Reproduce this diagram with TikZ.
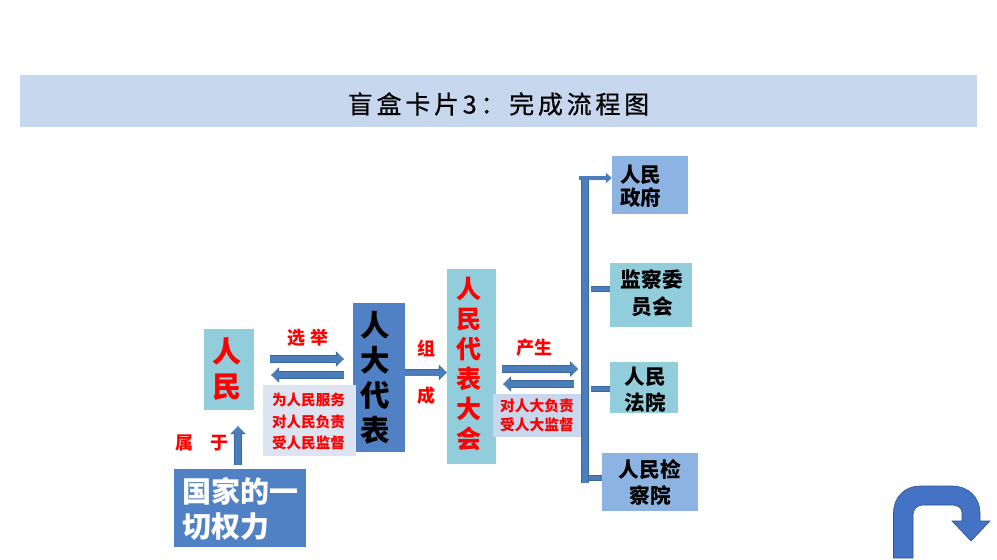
\documentclass[tikz,border=0pt]{standalone}
\usepackage{fontspec}
\setmainfont{Noto Sans CJK SC}
\newfontfamily\titlefont[LetterSpace=15,FakeBold=.6]{Noto Sans CJK SC}
\usetikzlibrary{arrows.meta}
\definecolor{bandblue}{HTML}{C7D7EE}
\definecolor{paleblue}{HTML}{DCE3F1}
\definecolor{tealbox}{HTML}{92CDDC}
\definecolor{midblue}{HTML}{8DB3E2}
\definecolor{deepblue}{HTML}{4F81C4}
\definecolor{arrowblue}{HTML}{4A7DBA}
\definecolor{arrowedge}{HTML}{3A679C}
\definecolor{turnblue}{HTML}{4472C4}
\definecolor{turnedge}{HTML}{2F528F}
\newcommand{\fsz}[2]{\fontsize{#1}{#2}\selectfont\bfseries}
\tikzset{
	box/.style={inner sep=0pt},
	boxtext/.style={inner sep=0pt, align=center},
	note/.style={inner sep=0pt, text=red, font=\fsz{18}{20}},
	blockarrow/.style={draw=arrowblue, line width=6pt, -{Triangle[width=13pt,length=7pt]},
		preaction={draw=arrowedge, line width=7.5pt, -{Triangle[width=15pt,length=8pt]}}},
	branch/.style={draw=arrowblue, line width=4pt,
		preaction={draw=arrowedge, line width=5.5pt}}
}
\begin{document}
\begin{tikzpicture}[x=1pt, y=-1pt]
	\useasboundingbox (0,0) rectangle (997,560);
	\node[box, fill=bandblue, minimum width=957pt, minimum height=52pt, label={[boxtext, yshift=-3pt, font=\titlefont\fontsize{25}{28}\selectfont]center:盲盒卡片3：完成流程图}] (title) at (498.5,101) {};
	% left part
	\node[box, fill=tealbox, minimum width=50pt, minimum height=81pt, label={[boxtext, xshift=-2.5pt, text=red, font=\fsz{29}{35}]center:人\\民}] (renmin) at (229,369.5) {};
	\node[box, fill=deepblue, minimum width=132pt, minimum height=78pt, label={[boxtext, align=left, yshift=-1pt, text=white, font=\fsz{29}{34.5}]center:国家的一\\切权力}] (quanli) at (240,508) {};
	\node[box, fill=deepblue, minimum width=52pt, minimum height=149pt, label={[boxtext, xshift=-4pt, font=\fsz{29.5}{35}]center:人\\大\\代\\表}] (renda) at (379,377.5) {};
	\node[box, fill=paleblue, minimum width=93pt, minimum height=71pt, label={[boxtext, xshift=-1pt, yshift=-1pt, text=red, font=\fsz{14.6}{21.5}]center:为人民服务\\对人民负责\\受人民监督}] (wei) at (309.5,420.5) {};
	\node[box, fill=tealbox, minimum width=49pt, minimum height=195pt, label={[boxtext, xshift=-2.5pt, yshift=3pt, text=red, font=\fsz{25}{30}]center:人\\民\\代\\表\\大\\会}] (daihui) at (471.5,366.5) {};
	\node[box, fill=bandblue, minimum width=93pt, minimum height=43pt, label={[boxtext, xshift=-2.5pt, text=red, font=\fsz{14.8}{19}]center:对人大负责\\受人大监督}] (dui) at (539.5,415.5) {};
	% right part
	\node[box, fill=midblue, minimum width=76pt, minimum height=58pt, label={[boxtext, xshift=-9.5pt, yshift=-1.5pt, font=\fsz{20.5}{23}]center:人民\\政府}] (zhengfu) at (650,185) {};
	\node[box, fill=tealbox, minimum width=82pt, minimum height=64pt, label={[boxtext, xshift=1pt, yshift=1.5pt, font=\fsz{20.7}{27}]center:监察委\\员会}] (jiancha) at (651,295) {};
	\node[box, fill=tealbox, minimum width=68pt, minimum height=51pt, label={[boxtext, xshift=1pt, yshift=-2.5pt, font=\fsz{20.5}{26}]center:人民\\法院}] (fayuan) at (644,387.5) {};
	\node[box, fill=midblue, minimum width=96pt, minimum height=58pt, label={[boxtext, font=\fsz{20.7}{26}]center:人民检\\察院}] (jianchayuan) at (650,482) {};
	% labels
	\node[note] (xuanju) at (308,338) {选\hspace{6pt}举};
	\node[note] (shu) at (184,443) {属};
	\node[note] (yu) at (219,443) {于};
	\node[note] (zu) at (426,348.5) {组};
	\node[note] (cheng) at (426,395.5) {成};
	\node[note] (chansheng) at (534.5,348) {产生};
	% arrows
	\coordinate (outend) at (578,369);
	\coordinate (backend) at (574,384);
	\draw[blockarrow] ([xshift=16,yshift=10.5]renmin.east) -- ([xshift=-9,yshift=18.5]renda.west);
	\draw[blockarrow] ([xshift=-9,yshift=2.5]renda.west) -- ([xshift=17,yshift=-5.5]renmin.east);
	\draw[blockarrow] ([xshift=-2,yshift=4]quanli.north) -- ([xshift=9,yshift=-16]renmin.south);
	\draw[blockarrow] ([yshift=5]renda.east) -- ([yshift=-6]daihui.west);
	\draw[blockarrow] ([xshift=6,yshift=-2.5]daihui.east) -- (outend);
	\draw[blockarrow] (backend) -- ([xshift=7,yshift=-17.5]daihui.east);
	% trunk and branches
	\coordinate (trunktop) at (585,178);
	\coordinate (trunkend) at (585,483);
	\coordinate (tapj) at (591,289);
	\coordinate (tapf) at (591,389);
	\coordinate (tapy) at (589,478);
	\draw[branch, line width=6.5pt, preaction={draw=arrowedge, line width=8pt}] (trunktop) -- (trunkend);
	\draw[draw=arrowblue, line width=4.5pt, -{Triangle[width=10pt,length=6pt]}] ([xshift=-6]trunktop) -- (zhengfu.west |- trunktop);
	\draw[branch] (tapj) -- (tapj -| jiancha.west);
	\draw[branch] (tapf) -- (tapf -| fayuan.west);
	\draw[branch] (tapy) -- (tapy -| jianchayuan.west);
	% return button
	\draw[fill=turnblue, draw=turnedge, line width=.6pt] (893.5,558) -- (893.5,513)
		.. controls (893.5,497) and (905,486) .. (920,486) -- (952,486)
		.. controls (968,486) and (980,497) .. (980,513) -- (980,521) -- (990,521) -- (971,541) -- (952,521) -- (962,521) -- (962,513)
		.. controls (962,508) and (958,505) .. (952,505) -- (923,505)
		.. controls (917,505) and (913,509) .. (913,515) -- (913,558) -- cycle;
\end{tikzpicture}
\end{document}
